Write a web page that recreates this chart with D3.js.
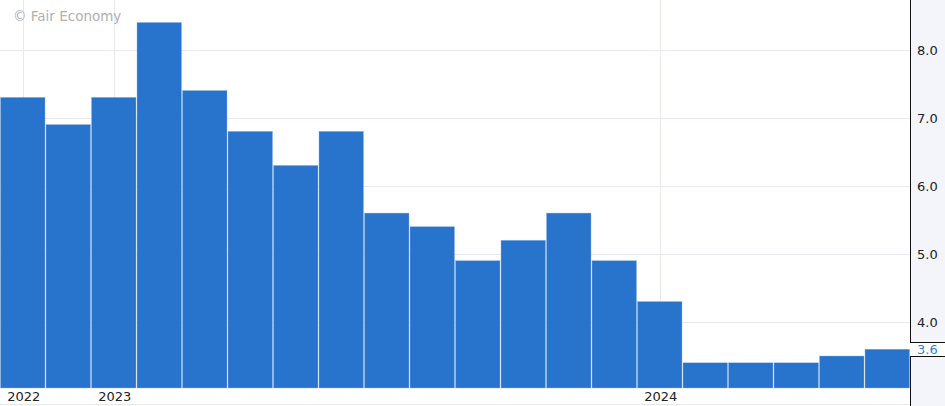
<!DOCTYPE html>
<html>
<head>
<meta charset="utf-8">
<script src="https://cdn.jsdelivr.net/npm/d3@7"></script>
<style>
html,body{margin:0;padding:0;background:#fff;}
svg{display:block;font-family:"DejaVu Sans",Verdana,sans-serif;}
</style>
</head>
<body>
<script>
const values = [7.3, 6.9, 7.3, 8.4, 7.4, 6.8, 6.3, 6.8, 5.6, 5.4, 4.9, 5.2, 5.6, 4.9, 4.3, 3.4, 3.4, 3.4, 3.5, 3.6];
const yearLabels = [{i:0, t:"2022"}, {i:2, t:"2023"}, {i:14, t:"2024"}];
const yTicks = [4.0, 5.0, 6.0, 7.0, 8.0];
const lastLabel = "3.6";

const W = 945, H = 406;
const plotR = 910, plotB = 388;
const svg = d3.select("body").append("svg").attr("width", W).attr("height", H);

const x = d3.scaleBand().domain(d3.range(values.length)).range([0, plotR]).padding(0);
const y = d3.scaleLinear().domain([3.03, 8.73]).range([plotB, 0]);

// right panel background
svg.append("rect").attr("x", plotR).attr("y", 0).attr("width", W - plotR).attr("height", H).attr("fill", "#f4f5fa");

// horizontal gridlines
svg.append("g").selectAll("line").data(yTicks).join("line")
  .attr("x1", 0).attr("x2", plotR)
  .attr("y1", d => Math.round(y(d)) + 0.5).attr("y2", d => Math.round(y(d)) + 0.5)
  .attr("stroke", "#e8e8f2").attr("stroke-width", 1);

// vertical gridlines
svg.append("g").selectAll("line").data(yearLabels).join("line")
  .attr("x1", d => Math.round(x(d.i) + x.bandwidth() / 2) + 0.5)
  .attr("x2", d => Math.round(x(d.i) + x.bandwidth() / 2) + 0.5)
  .attr("y1", 0).attr("y2", plotB)
  .attr("stroke", "#e8e8f2").attr("stroke-width", 1);

// watermark
svg.append("text").attr("x", 13).attr("y", 21).attr("font-size", 13.5).attr("fill", "#b0b0b0").text("© Fair Economy");

// bars
svg.append("g").selectAll("rect").data(values).join("rect")
  .attr("x", (d, i) => x(i) + 0.5)
  .attr("width", x.bandwidth() - 1)
  .attr("y", d => y(d))
  .attr("height", d => plotB - y(d))
  .attr("fill", "#2874cc")
  .attr("stroke", "#8fb4e6").attr("stroke-width", 0.4);

// bottom line
svg.append("line").attr("x1", 0).attr("x2", plotR).attr("y1", 404.5).attr("y2", 404.5)
  .attr("stroke", "#e8e8ee").attr("stroke-width", 1);

// x labels
svg.append("g").selectAll("text").data(yearLabels).join("text")
  .attr("x", d => x(d.i) + x.bandwidth() / 2 + 1)
  .attr("y", 401).attr("text-anchor", "middle").attr("font-size", 13).attr("fill", "#222")
  .text(d => d.t);

// right axis line with gap for last value label
const lastY = y(values[values.length - 1]);
const gapTop = Math.round(lastY - 7), gapBot = Math.round(lastY + 7);
svg.append("rect").attr("x", plotR).attr("y", gapTop).attr("width", W - plotR).attr("height", gapBot - gapTop).attr("fill", "#fff");
svg.append("line").attr("x1", plotR + 0.5).attr("x2", plotR + 0.5).attr("y1", 0).attr("y2", gapTop).attr("stroke", "#111");
svg.append("line").attr("x1", plotR + 0.5).attr("x2", plotR + 0.5).attr("y1", gapBot).attr("y2", H).attr("stroke", "#111");
svg.append("line").attr("x1", plotR).attr("x2", W).attr("y1", gapTop + 0.5).attr("y2", gapTop + 0.5).attr("stroke", "#111");
svg.append("line").attr("x1", plotR).attr("x2", W).attr("y1", gapBot + 0.5).attr("y2", gapBot + 0.5).attr("stroke", "#111");

// y tick labels
svg.append("g").selectAll("text").data(yTicks).join("text")
  .attr("x", 917).attr("y", d => y(d) + 5).attr("font-size", 13).attr("fill", "#222")
  .text(d => d.toFixed(1));

svg.append("text").attr("x", 917).attr("y", lastY + 5).attr("font-size", 13).attr("fill", "#3a7fd5").text(lastLabel);
</script>
</body>
</html>
